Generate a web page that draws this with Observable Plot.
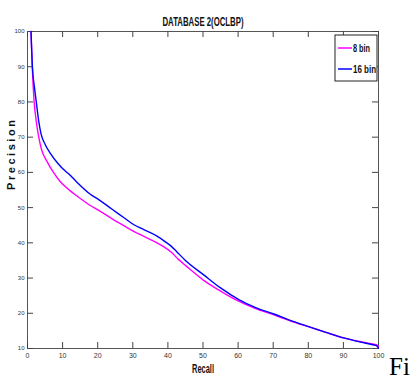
<!DOCTYPE html>
<html>
<head>
<meta charset="utf-8">
<script src="https://cdn.jsdelivr.net/npm/d3@7"></script>
<script src="https://cdn.jsdelivr.net/npm/@observablehq/plot@0.6"></script>
<style>
  html, body { margin: 0; padding: 0; background: #fff; }
  #chart { width: 418px; height: 381px; overflow: hidden; }
</style>
</head>
<body>
<div id="chart"></div>
<script>
const title = "DATABASE 2(OCLBP)";
const xLabel = "Recall";
const yLabel = "Precision";
const sideText = "Fi";
const seriesNames = ["8 bin", "16 bin"];
const seriesColors = ["#ff00ff", "#0000ff"];
const xTicks = [0, 10, 20, 30, 40, 50, 60, 70, 80, 90, 100];
const yTicks = [10, 20, 30, 40, 50, 60, 70, 80, 90, 100];

const recall8 = [1, 1.35, 1.9, 2.5, 3.2, 4, 5.5, 7.4, 9.3, 12, 14.5, 17.9, 20.3, 24, 27.4, 30, 33, 36.9, 39, 41, 43, 45, 50, 55, 60, 65, 70, 75, 80, 85, 90, 95, 98.7, 99.6, 100];
const prec8   = [100, 90, 80, 74.5, 70, 66.5, 63.2, 60, 57.4, 54.9, 53.0, 50.6, 49.2, 46.9, 44.9, 43.4, 41.9, 40.0, 38.8, 37.3, 35.3, 33.6, 29.5, 26.3, 23.5, 21.3, 19.6, 17.8, 16.2, 14.6, 13, 11.9, 11.2, 11, 10.5];

const recall16 = [1, 1.4, 2, 2.5, 3.2, 3.9, 5, 6.5, 8.8, 10.3, 11.7, 14, 17.9, 20.7, 24, 27.4, 30.2, 33, 36.9, 39, 41, 42.5, 45, 50.2, 55, 60.2, 65, 70.2, 75, 80.1, 85, 90.1, 95, 98.7, 99.4, 100];
const prec16   = [100, 90, 84, 80, 74.5, 70.8, 68.0, 65.4, 62.4, 60.8, 59.6, 57.3, 53.8, 52.0, 49.6, 47.2, 45.2, 43.8, 41.9, 40.5, 39.0, 37.5, 35.0, 30.9, 27.2, 23.9, 21.6, 19.8, 17.9, 16.2, 14.6, 13, 11.8, 11, 10.8, 10.1];

const rows = [
  ...recall8.map((r, i) => ({recall: r, precision: prec8[i], series: seriesNames[0]})),
  ...recall16.map((r, i) => ({recall: r, precision: prec16[i], series: seriesNames[1]}))
];

const W = 418, H = 381;
const mL = 27, mR = 40, mT = 31, mB = 33;
const innerW = W - mL - mR, innerH = H - mT - mB;
const tickLen = 6;
const narrow = "'Liberation Sans Narrow', 'Arial Narrow', 'Liberation Sans', Arial, sans-serif";

const plot = Plot.plot({
  width: W,
  height: H,
  marginLeft: mL,
  marginRight: mR,
  marginTop: mT,
  marginBottom: mB,
  style: {fontFamily: narrow, background: "#fff", color: "#000", overflow: "visible"},
  x: {domain: [0, 100], label: null},
  y: {domain: [10, 100], label: null},
  color: {domain: seriesNames, range: seriesColors},
  marks: [
    Plot.frame({stroke: "#555", strokeWidth: 1}),
    Plot.axisX(xTicks, {tickSize: 0, tickPadding: 5, fontSize: 7, label: null, fill: "#333"}),
    Plot.axisY(yTicks, {tickSize: 0, tickPadding: 3, fontSize: 6, label: null, fill: "#333"}),
    Plot.tickX(xTicks, {x: d => d, insetTop: innerH - tickLen, stroke: "#444"}),
    Plot.tickX(xTicks, {x: d => d, insetBottom: innerH - tickLen, stroke: "#444"}),
    Plot.tickY(yTicks, {y: d => d, insetRight: innerW - tickLen, stroke: "#444"}),
    Plot.tickY(yTicks, {y: d => d, insetLeft: innerW - tickLen, stroke: "#444"}),
    Plot.line(rows, {x: "recall", y: "precision", z: "series", stroke: "series", strokeWidth: 1.4, curve: "monotone-x"}),
    Plot.text([title], {text: d => d, frameAnchor: "top", dy: -14, fontSize: 12, fontWeight: "bold", fill: "#111"}),
    Plot.text([xLabel], {text: d => d, frameAnchor: "bottom", dy: 24, fontSize: 12, fontWeight: "bold", fill: "#111"}),
    Plot.text([yLabel], {text: d => d, frameAnchor: "left", dx: -16, rotate: -90, fontSize: 11, fontWeight: "bold", fill: "#111", fontFamily: "'Liberation Sans', Arial, sans-serif"})
  ]
});

const svg = d3.select(plot);
svg.selectAll("text").each(function () {
  const t = d3.select(this);
  const s = this.textContent;
  if (s === title) t.attr("textLength", 81).attr("lengthAdjust", "spacingAndGlyphs");
  if (s === xLabel) t.attr("textLength", 22).attr("lengthAdjust", "spacingAndGlyphs");
  if (s === yLabel) t.attr("textLength", 70).attr("lengthAdjust", "spacing");
});

// Legend (inside upper-right of the frame)
const lg = svg.append("g").attr("class", "legend").attr("text-anchor", "start");
const lx = 335, ly = 35, lw = 42, lh = 46;
lg.append("rect").attr("x", lx).attr("y", ly).attr("width", lw).attr("height", lh)
  .attr("fill", "#fff").attr("stroke", "#222").attr("stroke-width", 1);
seriesNames.forEach((name, i) => {
  const cy = ly + 13 + i * 21;
  lg.append("line").attr("x1", lx + 3).attr("x2", lx + 17).attr("y1", cy).attr("y2", cy)
    .attr("stroke", seriesColors[i]).attr("stroke-width", 1.5);
  lg.append("text").attr("x", lx + 18).attr("y", cy).attr("dy", "0.35em")
    .attr("text-anchor", "start")
    .attr("font-size", 11).attr("font-weight", "bold").attr("fill", "#111")
    .attr("font-family", narrow)
    .attr("textLength", name.length === 5 ? 17 : 23).attr("lengthAdjust", "spacingAndGlyphs")
    .text(name);
});

// Stray caption text at right edge
svg.append("text").attr("x", 389).attr("y", 375).attr("text-anchor", "start")
  .attr("font-family", "'Liberation Serif', 'Times New Roman', serif")
  .attr("font-size", 25).attr("fill", "#000").text(sideText);

document.getElementById("chart").appendChild(plot);
</script>
</body>
</html>
